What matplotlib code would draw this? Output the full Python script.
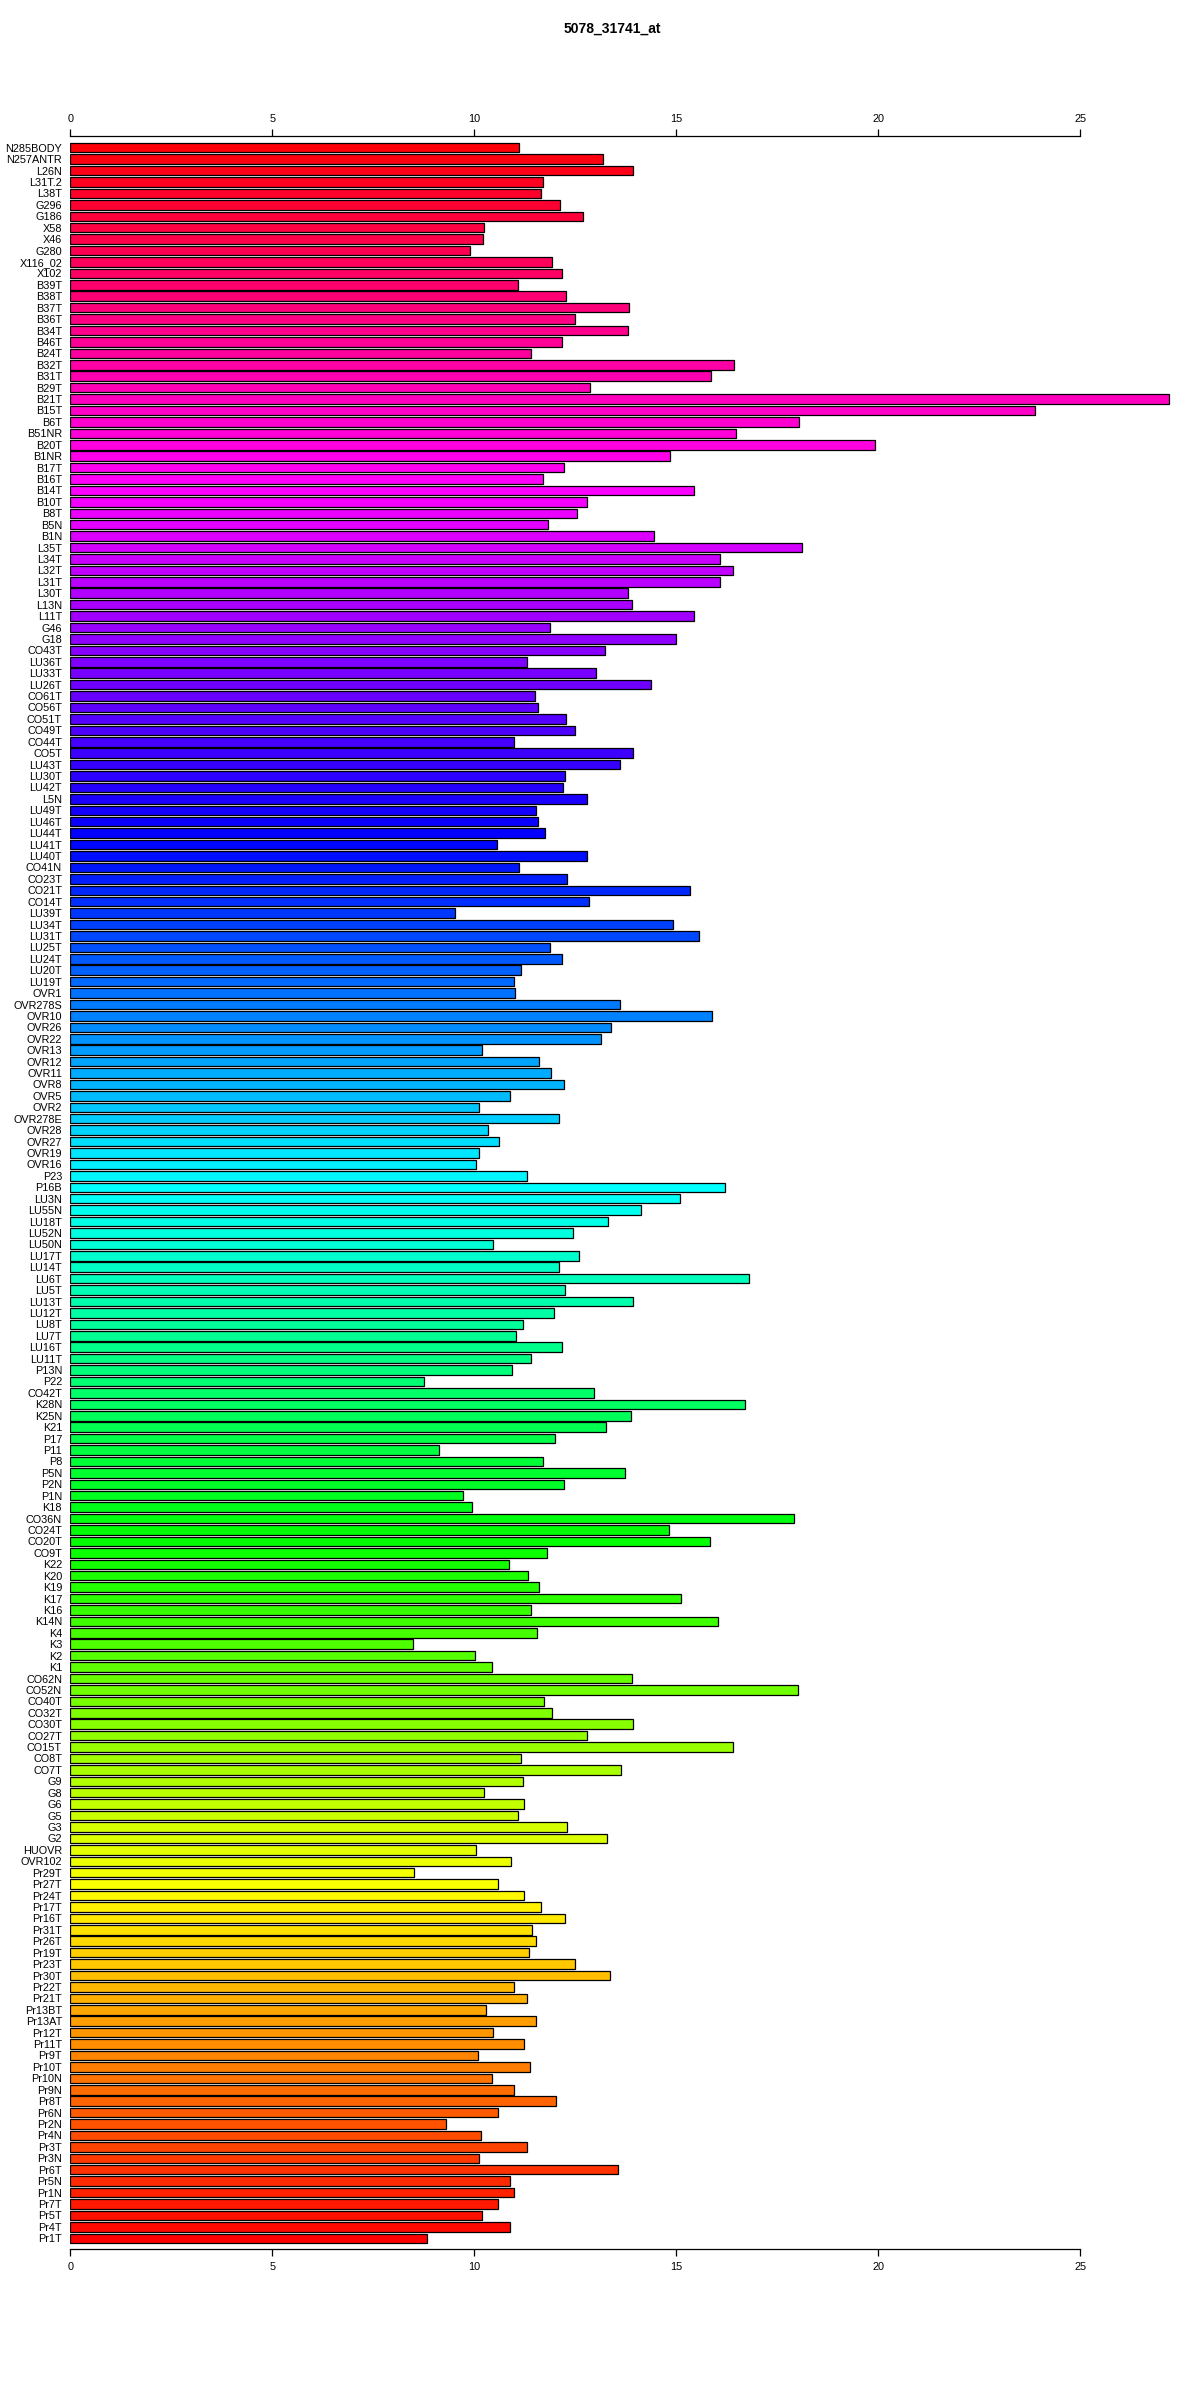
import numpy as np
import matplotlib
matplotlib.use("Agg")
import matplotlib.pyplot as plt
from matplotlib.colors import hsv_to_rgb

plt.rcParams['font.family'] = ['Liberation Sans', 'DejaVu Sans']

# samples as listed top -> bottom in the chart
labels = [
    "N285BODY", "N257ANTR", "L26N", "L31T.2", "L38T", "G296", "G186", "X58", "X46", "G280",
    "X116_02", "X102", "B39T", "B38T", "B37T", "B36T", "B34T", "B46T", "B24T", "B32T",
    "B31T", "B29T", "B21T", "B15T", "B6T", "B51NR", "B20T", "B1NR", "B17T", "B16T",
    "B14T", "B10T", "B8T", "B5N", "B1N", "L35T", "L34T", "L32T", "L31T", "L30T",
    "L13N", "L11T", "G46", "G18", "CO43T", "LU36T", "LU33T", "LU26T", "CO61T", "CO56T",
    "CO51T", "CO49T", "CO44T", "CO5T", "LU43T", "LU30T", "LU42T", "L5N", "LU49T", "LU46T",
    "LU44T", "LU41T", "LU40T", "CO41N", "CO23T", "CO21T", "CO14T", "LU39T", "LU34T", "LU31T",
    "LU25T", "LU24T", "LU20T", "LU19T", "OVR1", "OVR278S", "OVR10", "OVR26", "OVR22", "OVR13",
    "OVR12", "OVR11", "OVR8", "OVR5", "OVR2", "OVR278E", "OVR28", "OVR27", "OVR19", "OVR16",
    "P23", "P16B", "LU3N", "LU55N", "LU18T", "LU52N", "LU50N", "LU17T", "LU14T", "LU6T",
    "LU5T", "LU13T", "LU12T", "LU8T", "LU7T", "LU16T", "LU11T", "P13N", "P22", "CO42T",
    "K28N", "K25N", "K21", "P17", "P11", "P8", "P5N", "P2N", "P1N", "K18",
    "CO36N", "CO24T", "CO20T", "CO9T", "K22", "K20", "K19", "K17", "K16", "K14N",
    "K4", "K3", "K2", "K1", "CO62N", "CO52N", "CO40T", "CO32T", "CO30T", "CO27T",
    "CO15T", "CO8T", "CO7T", "G9", "G8", "G6", "G5", "G3", "G2", "HUOVR",
    "OVR102", "Pr29T", "Pr27T", "Pr24T", "Pr17T", "Pr16T", "Pr31T", "Pr26T", "Pr19T", "Pr23T",
    "Pr30T", "Pr22T", "Pr21T", "Pr13BT", "Pr13AT", "Pr12T", "Pr11T", "Pr9T", "Pr10T", "Pr10N",
    "Pr9N", "Pr8T", "Pr6N", "Pr2N", "Pr4N", "Pr3T", "Pr3N", "Pr6T", "Pr5N", "Pr1N",
    "Pr7T", "Pr5T", "Pr4T", "Pr1T",
]

values = [
    11.10, 13.18, 13.92, 11.70, 11.65, 12.12, 12.69, 10.25, 10.21, 9.89,
    11.93, 12.18, 11.08, 12.27, 13.83, 12.50, 13.79, 12.18, 11.40, 16.42,
    15.85, 12.86, 27.20, 23.88, 18.03, 16.48, 19.92, 14.85, 12.22, 11.69,
    15.44, 12.78, 12.54, 11.82, 14.45, 18.11, 16.08, 16.40, 16.08, 13.81,
    13.90, 15.44, 11.86, 15.00, 13.24, 11.31, 13.01, 14.36, 11.50, 11.57,
    12.27, 12.50, 10.97, 13.92, 13.60, 12.25, 12.20, 12.78, 11.53, 11.57,
    11.74, 10.57, 12.78, 11.10, 12.29, 15.34, 12.84, 9.53, 14.92, 15.57,
    11.88, 12.18, 11.16, 10.98, 11.00, 13.60, 15.89, 13.39, 13.14, 10.19,
    11.61, 11.89, 12.22, 10.89, 10.11, 12.10, 10.34, 10.61, 10.11, 10.04,
    11.29, 16.21, 15.09, 14.13, 13.31, 12.44, 10.45, 12.58, 12.10, 16.80,
    12.25, 13.92, 11.97, 11.21, 11.04, 12.18, 11.40, 10.93, 8.75, 12.95,
    16.70, 13.88, 13.26, 12.00, 9.13, 11.69, 13.73, 12.22, 9.72, 9.94,
    17.92, 14.81, 15.83, 11.80, 10.85, 11.33, 11.61, 15.11, 11.40, 16.02,
    11.55, 8.47, 10.02, 10.44, 13.90, 18.01, 11.72, 11.93, 13.92, 12.78,
    16.40, 11.16, 13.64, 11.21, 10.25, 11.23, 11.08, 12.29, 13.28, 10.04,
    10.91, 8.50, 10.59, 11.23, 11.65, 12.25, 11.42, 11.53, 11.36, 12.50,
    13.35, 10.97, 11.31, 10.28, 11.53, 10.45, 11.23, 10.09, 11.38, 10.44,
    10.98, 12.03, 10.59, 9.30, 10.17, 11.31, 10.11, 13.56, 10.89, 10.98,
    10.59, 10.19, 10.89, 8.83,
]

xticks = [0, 5, 10, 15, 20, 25]
title = "5078_31741_at"

n = len(labels)
# R barplot style: first sample at top, rainbow hue running bottom -> top
ypos = np.arange(n)[::-1]
hues = ypos / n
colors = hsv_to_rgb(np.column_stack([hues, np.ones(n), np.ones(n)]))

W, H = 1200, 2400
fig = plt.figure(figsize=(W / 100, H / 100), dpi=100)
px_per_unit = 40.4
ax = fig.add_axes([70.4 / W, 1 - 2249 / H, 27.5 * px_per_unit / W, (2249 - 136) / H])

ax.barh(ypos, values, height=0.833, color=colors, edgecolor="black", linewidth=0.9)
ax.set_xlim(0, 27.5)
ax.set_ylim(-0.94, n - 1 + 0.4167 + 0.61)

ax.set_yticks(ypos)
ax.set_yticklabels(labels, fontsize=7.8)
ax.tick_params(axis="y", length=0, pad=6)

ax.set_xticks(xticks)
ax.tick_params(axis="x", top=True, labeltop=True, bottom=True, labelbottom=True,
               direction="out", length=5, width=0.9, labelsize=7.8, pad=4)
for s in ["left", "right"]:
    ax.spines[s].set_visible(False)
for s in ["top", "bottom"]:
    ax.spines[s].set_bounds(0, 25)
    ax.spines[s].set_linewidth(0.9)

fig.text(0.51, 1 - 29 / H, title, ha="center", va="center", fontsize=10, fontweight="bold")

fig.savefig("out.png", dpi=100)
